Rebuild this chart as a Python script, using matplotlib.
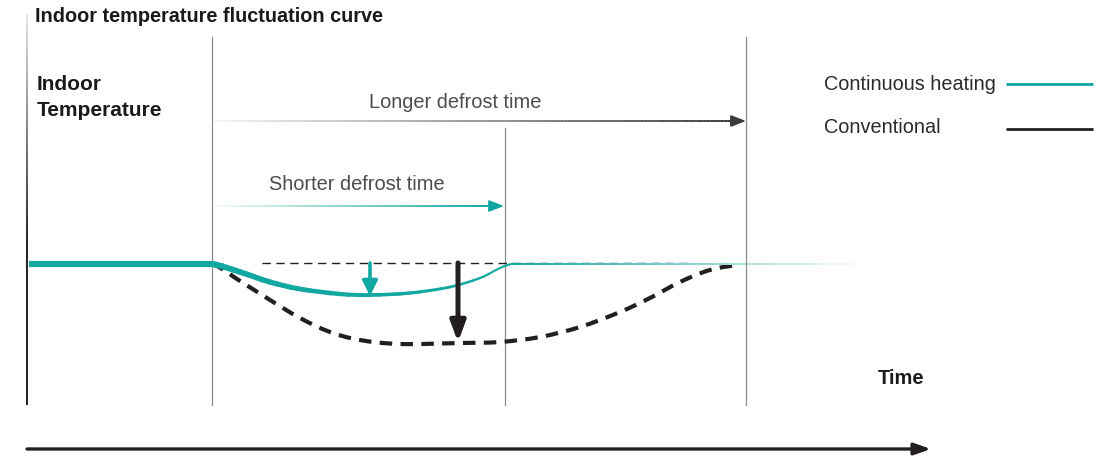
import numpy as np
import matplotlib
matplotlib.use("Agg")
import matplotlib.pyplot as plt
from matplotlib.collections import LineCollection
from matplotlib.colors import to_rgb
from matplotlib.path import Path
from matplotlib.patches import PathPatch

plt.rcParams['font.family'] = ['Liberation Sans', 'DejaVu Sans']

# ---- data (schematic, time on x, temperature drawn downward on y) ----
title = "Indoor temperature fluctuation curve"
ylabel_lines = ["Indoor", "Temperature"]
xlabel = "Time"
series_names = ["Continuous heating", "Conventional"]
defrost_start = 212
short_end = 505
long_end = 746
baseline = 264

cont_flat_x = [29, 212]
cont_flat_y = [264, 264]
cont_x = [212, 240, 270, 300, 340, 370, 410, 450, 480, 500, 512]
cont_y = [264, 272, 282, 289, 294, 295, 293, 287, 278, 268, 264]
cont_tail_x = [512, 870]
cont_tail_y = [264, 264]

conv_x = [212, 240, 270, 300, 330, 360, 400, 460, 500, 540, 580, 620, 650, 680, 710, 740]
conv_y = [264, 281, 300, 318, 332, 340, 344, 343, 342, 337, 327, 312, 298, 282, 270, 265]

teal_drop = (370, 263, 296)
black_drop = (458, 263, 342)

TEAL = "#11a8a1"
DARK = "#231f20"
GRAY = "#8c8c8c"

fig = plt.figure(figsize=(11.19, 4.61), dpi=100)
ax = fig.add_axes([0, 0, 1, 1])
ax.set_xlim(0, 1119)
ax.set_ylim(461, 0)
ax.axis("off")


def smooth_path(xs, ys):
    """Catmull-Rom through the given points (horizontal end tangents) as cubic Bezier path."""
    p = np.column_stack([xs, ys]).astype(float)
    first = np.array([2 * p[0, 0] - p[1, 0], p[0, 1]])
    last = np.array([2 * p[-1, 0] - p[-2, 0], p[-1, 1]])
    ext = np.vstack([first, p, last])
    verts = [tuple(p[0])]
    codes = [Path.MOVETO]
    for i in range(1, len(ext) - 2):
        p0, p1, p2, p3 = ext[i - 1], ext[i], ext[i + 1], ext[i + 2]
        c1 = p1 + (p2 - p0) / 6.0
        c2 = p2 - (p3 - p1) / 6.0
        verts += [tuple(c1), tuple(c2), tuple(p2)]
        codes += [Path.CURVE4] * 3
    return Path(verts, codes)


def gradient_line(x0, x1, y0, y1, color, lw, a0, a1, n=150, z=2):
    """Opaque colour fade (blend to white) to avoid seams."""
    xs = np.linspace(x0, x1, n + 1)
    ys = np.linspace(y0, y1, n + 1)
    segs = [[(xs[i], ys[i]), (xs[i + 1], ys[i + 1])] for i in range(n)]
    t = np.linspace(a0, a1, n)[:, None]
    base = np.array(to_rgb(color))
    cols = t * base + (1 - t) * np.ones(3)
    lc = LineCollection(segs, colors=cols, linewidths=lw, zorder=z, capstyle='projecting')
    ax.add_collection(lc)


# vertical left axis (fades toward the top)
ax.plot([27, 27], [250, 405], color=DARK, lw=1.4, solid_capstyle='butt', zorder=3)
gradient_line(27, 27, 250, 15, DARK, 1.4, 1.0, 0.12, z=3)

# vertical markers
ax.plot([defrost_start, defrost_start], [37, 405], color=GRAY, lw=0.9, zorder=1)
ax.plot([short_end, short_end], [128, 405], color=GRAY, lw=0.9, zorder=1)
ax.plot([long_end, long_end], [37, 405], color=GRAY, lw=0.9, zorder=5)

# texts
ax.text(35, 16, title, fontsize=14.3, fontweight='bold', color="#1a1a1a", va='center', ha='left')
ax.text(37, 84, ylabel_lines[0], fontsize=15, fontweight='bold', color="#1a1a1a", va='center', ha='left')
ax.text(37, 110, ylabel_lines[1], fontsize=15, fontweight='bold', color="#1a1a1a", va='center', ha='left')
ax.text(901, 378, xlabel, fontsize=14.5, fontweight='bold', color="#1a1a1a", va='center', ha='center')

ax.text(455, 102, "Longer defrost time", fontsize=14.4, color="#4d4d4d", va='center', ha='center')
ax.text(357, 184, "Shorter defrost time", fontsize=14.4, color="#4d4d4d", va='center', ha='center')

# defrost time arrows (gradient shafts)
gradient_line(215, 736, 121, 121, "#3a3a3a", 1.3, 0.05, 1.0)
ax.annotate("", xy=(746, 121), xytext=(730, 121),
            arrowprops=dict(arrowstyle='-|>,head_length=0.9,head_width=0.35', color="#3a3a3a", lw=1.3,
                            shrinkA=0, shrinkB=0))
gradient_line(215, 494, 206, 206, TEAL, 1.3, 0.05, 1.0)
ax.annotate("", xy=(504, 206), xytext=(488, 206),
            arrowprops=dict(arrowstyle='-|>,head_length=0.9,head_width=0.35', color=TEAL, lw=1.3,
                            shrinkA=0, shrinkB=0))

# legend
ax.text(824, 84, series_names[0], fontsize=14.3, color="#2b2b2b", va='center', ha='left')
ax.plot([1006, 1093], [84, 84], color=TEAL, lw=2.0, solid_capstyle='butt')
ax.text(824, 127, series_names[1], fontsize=14.3, color="#2b2b2b", va='center', ha='left')
ax.plot([1006, 1093], [129, 129], color=DARK, lw=2.0, solid_capstyle='butt')

# reference dashed baseline
ax.plot([262, 690], [263, 263], color=DARK, lw=1.0, linestyle=(0, (6, 4)), zorder=2)

# conventional dashed curve (smooth)
ax.add_patch(PathPatch(smooth_path(conv_x, conv_y), facecolor='none', edgecolor=DARK, lw=3.0,
                       linestyle=(0, (3.0, 2.0)), zorder=3, capstyle='butt'))

# continuous heating: thick flat part, then tapering smooth curve
ax.plot(cont_flat_x, cont_flat_y, color=TEAL, lw=4.4, solid_capstyle='butt', zorder=4)
curve = smooth_path(cont_x, cont_y)
pts = curve.to_polygons(closed_only=False)[0]
segs = [[tuple(pts[i]), tuple(pts[i + 1])] for i in range(len(pts) - 1)]
mid_x = np.array([(s[0][0] + s[1][0]) / 2 for s in segs])
frac = np.clip((mid_x - defrost_start) / (short_end - defrost_start), 0, 1)
widths = 4.4 - frac * 3.0
ax.add_collection(LineCollection(segs, colors=TEAL, linewidths=widths, zorder=4, capstyle='round'))
gradient_line(cont_tail_x[0], cont_tail_x[1], cont_tail_y[0], cont_tail_y[1], TEAL, 1.4, 1.0, 0.0, z=4)

# drop arrows
x, y0, y1 = teal_drop
ax.annotate("", xy=(x, y1), xytext=(x, y0),
            arrowprops=dict(arrowstyle='-|>,head_length=0.9,head_width=0.45', color=TEAL, lw=2.6,
                            shrinkA=0, shrinkB=0), zorder=5)
x, y0, y1 = black_drop
ax.annotate("", xy=(x, y1), xytext=(x, y0),
            arrowprops=dict(arrowstyle='-|>,head_length=1.2,head_width=0.45', color=DARK, lw=3.6,
                            shrinkA=0, shrinkB=0), zorder=5)

# time axis arrow at bottom
ax.annotate("", xy=(931, 449), xytext=(27, 449),
            arrowprops=dict(arrowstyle='-|>,head_length=1.0,head_width=0.35', color=DARK, lw=2.4,
                            shrinkA=0, shrinkB=0))

fig.savefig("out.png", dpi=100)
